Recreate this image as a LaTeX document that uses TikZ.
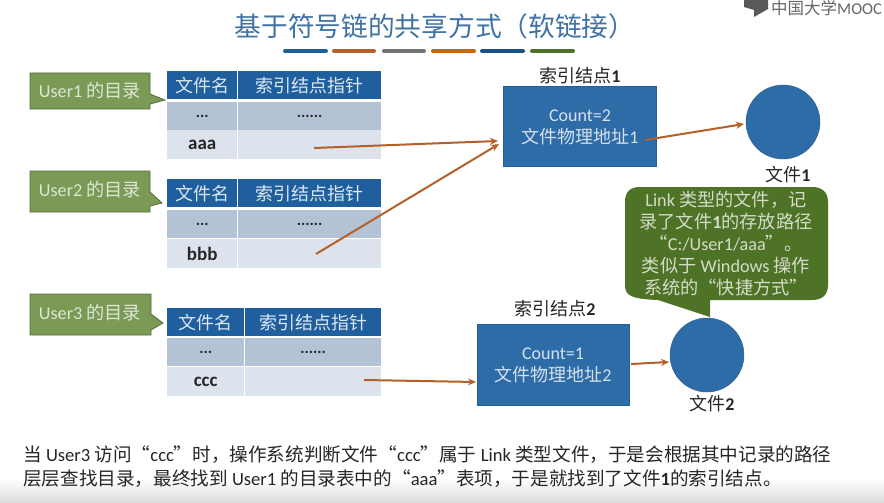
\documentclass[tikz,border=0pt]{standalone}
\usepackage{fontspec}
\setmainfont{Carlito}
\newfontfamily\cjk{Noto Sans CJK SC}
\newcommand{\zh}[1]{{\cjk #1}}
\usetikzlibrary{arrows.meta}
\definecolor{hdr}{HTML}{1F5F9E}
\definecolor{rowa}{HTML}{B4C2D6}
\definecolor{rowb}{HTML}{DDE3ED}
\definecolor{boxb}{HTML}{2E6CA8}
\definecolor{grn}{HTML}{7A9A55}
\definecolor{dgrn}{HTML}{4F7326}
\definecolor{arr}{HTML}{B5602A}
\definecolor{titlec}{HTML}{3F72A5}
\tikzset{
  hcell/.style={fill=hdr,text=white!85!hdr,minimum height=28pt,inner sep=0pt,font=\fontsize{18}{18}\selectfont},
  rcella/.style={fill=rowa,text=black!85,minimum height=27.5pt,inner sep=0pt,font=\fontsize{16}{16}\bfseries\selectfont},
  rcellb/.style={fill=rowb,text=black!85,minimum height=28.5pt,inner sep=0pt,font=\fontsize{19}{19}\bfseries\selectfont},
  calloutbox/.style={fill=grn,draw=grn!70!black,line width=.8pt},
  calltext/.style={text=white!75!grn,font=\fontsize{18.2}{18.2}\selectfont,inner sep=0pt},
  inode/.style={fill=boxb,draw=hdr,line width=.5pt,inner sep=0pt},
  itext/.style={text=white!80!boxb,align=center,font=\fontsize{18}{22}\selectfont,inner sep=0pt},
  captext/.style={text=black!85,inner sep=0pt,font=\fontsize{18}{18}\selectfont},
  filecirc/.style={circle,fill=boxb,draw=boxb!85!black,line width=.4pt,inner sep=0pt,minimum size=74pt},
  link/.style={arr,line width=2pt,-{Stealth[length=8pt,width=7pt]}},
  barline/.style={line width=4pt,line cap=round}
}
% name, header top, row1 top, row2 top, cell text, column split, first-col width, second-col width
\newcommand{\dirtable}[8]{%
  \node[hcell,minimum width=#7pt,anchor=north west] (#1h1) at (167,#2) {\zh{文件名}};
  \node[hcell,minimum width=#8pt,anchor=north west] (#1h2) at (#6,#2) {\zh{索引结点指针}};
  \node[rcella,minimum width=#7pt,anchor=north west] (#1a1) at (167,#3) {...};
  \node[rcella,minimum width=#8pt,anchor=north west] (#1a2) at (#6,#3) {......};
  \node[rcellb,minimum width=#7pt,anchor=north west] (#1b1) at (167,#4) {#5};
  \node[rcellb,minimum width=#8pt,anchor=north west] (#1b2) at (#6,#4) {};
}
\begin{document}
\begin{tikzpicture}[x=1pt,y=-1pt]
\useasboundingbox (0,0) rectangle (884,503);
\fill[white] (0,0) rectangle (884,503);
\shade[top color=white,bottom color=black!14] (0,478) rectangle (884,503);
% title
\node[text=titlec,inner sep=0pt,font=\fontsize{26.7}{26.7}\selectfont] (title) at (435,26) {\zh{基于符号链的共享方式（软链接）}};
\draw[barline,color=hdr] (285,51) -- (326,51);
\draw[barline,color=arr] (334,51) -- (374,51);
\draw[barline,color=black!55] (384,51) -- (424,51);
\draw[barline,color=orange!80!black] (433,51) -- (474,51);
\draw[barline,color=hdr!85!black] (482,51) -- (523,51);
\draw[barline,color=dgrn] (532,51) -- (573,51);
% logo
\fill[black!65] (744,0) -- (768,0) -- (768,9) -- (754,17) -- (754,10) -- (744,7) -- cycle;
\node[anchor=west,text=black!60,inner sep=0pt,font=\fontsize{16.5}{16.5}\selectfont] (logo) at (771,8) {\zh{中国大学}MOOC};
% tables
\dirtable{t}{71}{102}{130}{aaa}{238}{70}{143}
\dirtable{u}{179}{210}{239}{bbb}{238}{70}{143}
\dirtable{v}{308}{338}{367}{ccc}{245}{77}{136}
\coordinate (tfrom) at (314,148);
\coordinate (ufrom) at (316,254);
\coordinate (vfrom) at (364,380);
% callouts
\fill[calloutbox] (30,73) -- (150,73) -- (150,94) -- (165,100) -- (150,104) -- (150,109) -- (30,109) -- cycle;
\node[calltext] (c1) at (90,91) {User1 \zh{的目录}};
\fill[calloutbox] (30,171) -- (150,171) -- (150,192) -- (162,203) -- (150,206) -- (150,212) -- (30,212) -- cycle;
\node[calltext] (c2) at (90,190) {User2 \zh{的目录}};
\fill[calloutbox] (30,294) -- (151,294) -- (151,314) -- (163,323) -- (151,330) -- (151,335) -- (30,335) -- cycle;
\node[calltext] (c3) at (90,313) {User3 \zh{的目录}};
% inodes
\node[inode,minimum width=153pt,minimum height=80pt] (n1) at (580,126) {};
\node[itext] (n1t) at (580,127) {Count=2\\\zh{文件物理地址}1};
\node[captext] (n1c) at (580,76) {\zh{索引结点}\textbf{1}};
\node[inode,minimum width=152pt,minimum height=81pt] (n2) at (553,365) {};
\node[itext] (n2t) at (553,365) {Count=1\\\zh{文件物理地址}2};
\node[captext] (n2c) at (555,309) {\zh{索引结点}\textbf{2}};
% files
\node[filecirc] (f1) at (783,122) {};
\node[captext] (f1c) at (788,175) {\zh{文件}\textbf{1}};
\node[filecirc] (f2) at (707,355) {};
\node[captext] (f2c) at (712,404) {\zh{文件}\textbf{2}};
% bubble
\fill[dgrn] (640,187) .. controls (630,187) and (625,192) .. (625,202)
  -- (625,285) .. controls (625,295) and (630,299) .. (658,300)
  -- (710,317) -- (710,300) -- (812,300)
  .. controls (822,300) and (828,295) .. (828,285)
  -- (828,202) .. controls (828,192) and (822,187) .. (812,187) -- cycle;
\node[text=white!75!dgrn,align=center,inner sep=0pt,font=\fontsize{18.2}{22}\selectfont] (bub) at (726,244)
  {Link \zh{类型的文件，记}\\\zh{录了文件}\textbf{1}\zh{的存放路径}\\\zh{“}C:/User1/aaa\zh{”。}\\\zh{类似于} Windows \zh{操作}\\\zh{系统的“快捷方式”}};
% connectors
\coordinate (n1in) at (498,141);
\coordinate (n1in2) at (499,144);
\coordinate (n1out) at (645,140);
\coordinate (f1in) at (744,124);
\coordinate (n2in) at (476,382);
\coordinate (n2out) at (631,364);
\coordinate (f2in) at (669,362);
\draw[link] (tfrom) -- (n1in);
\draw[link] (ufrom) -- (n1in2);
\draw[link] (n1out) -- (f1in);
\draw[link] (vfrom) -- (n2in);
\draw[link] (n2out) -- (f2in);
% bottom text
\node[anchor=west,inner sep=0pt,text=black!85,font=\fontsize{18.6}{18.6}\selectfont] (l1) at (23,455) {\zh{当} User3 \zh{访问“}ccc\zh{”时，操作系统判断文件“}ccc\zh{”属于} Link \zh{类型文件，于是会根据其中记录的路径}};
\node[anchor=west,inner sep=0pt,text=black!85,font=\fontsize{18.6}{18.6}\selectfont] (l2) at (23,479) {\zh{层层查找目录，最终找到} User1 \zh{的目录表中的“}aaa\zh{”表项，于是就找到了文件}\textbf{1}\zh{的索引结点。}};
\end{tikzpicture}
\end{document}
